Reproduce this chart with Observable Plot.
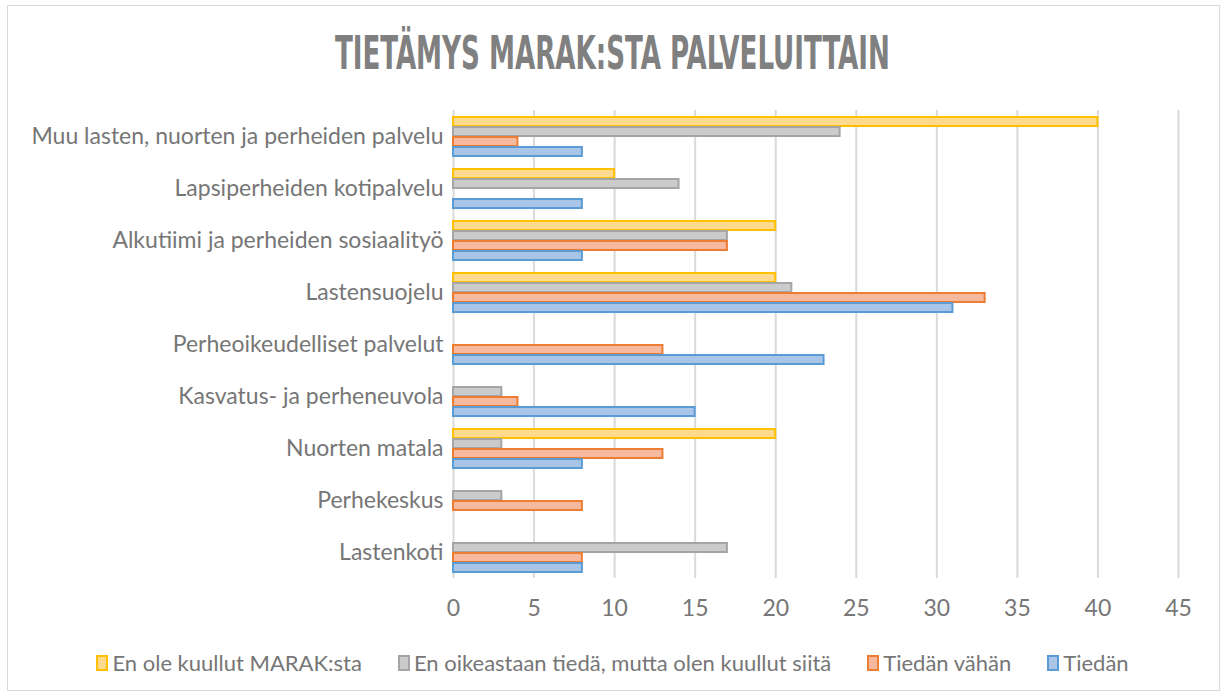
<!DOCTYPE html>
<html>
<head>
<meta charset="utf-8">
<script src="https://cdn.jsdelivr.net/npm/d3@7"></script>
<script src="https://cdn.jsdelivr.net/npm/@observablehq/plot@0.6"></script>
<style>
  html, body { margin: 0; padding: 0; background: #fff; }
  #frame { position: absolute; left: 7px; top: 5px; width: 1213px; height: 686px; border: 1px solid #d9d9d9; box-sizing: border-box; }
  #title { position: absolute; left: 0; top: 26px; width: 1225px; text-align: center; font-family: "DejaVu Sans Condensed", "DejaVu Sans"; font-weight: bold; font-size: 46px; color: #808080; white-space: nowrap; }
  #title span { display: inline-block; transform-origin: center; }
  #chart { position: absolute; left: 0; top: 100px; }
  #legend { position: absolute; left: 0; top: 649px; width: 1225px; display: flex; justify-content: center; gap: 36px; font-family: Lato, "Open Sans", sans-serif; font-size: 22px; color: #767676; }
  .item { display: flex; align-items: center; gap: 4px; }
  .sw { width: 8px; height: 12px; border: 2px solid; }
  svg text { font-family: Lato, "Open Sans", sans-serif; }
</style>
</head>
<body>
<div id="frame"></div>
<div id="title"><span>TIETÄMYS MARAK:STA PALVELUITTAIN</span></div>
<div id="chart"></div>
<div id="legend"></div>
<script>
const categories = [
  "Muu lasten, nuorten ja perheiden palvelu",
  "Lapsiperheiden kotipalvelu",
  "Alkutiimi ja perheiden sosiaalityö",
  "Lastensuojelu",
  "Perheoikeudelliset palvelut",
  "Kasvatus- ja perheneuvola",
  "Nuorten matala",
  "Perhekeskus",
  "Lastenkoti"
];
const seriesNames = [
  "En ole kuullut MARAK:sta",
  "En oikeastaan tiedä, mutta olen kuullut siitä",
  "Tiedän vähän",
  "Tiedän"
];
const enOleKuullut = [40, 10, 20, 20, 0, 0, 20, 0, 0];
const enOikeastaanTieda = [24, 14, 17, 21, 0, 3, 3, 3, 17];
const tiedanVahan = [4, 0, 17, 33, 13, 4, 13, 8, 8];
const tiedan = [8, 8, 8, 31, 23, 15, 8, 0, 8];
const xTicks = [0, 5, 10, 15, 20, 25, 30, 35, 40, 45];

const fills = ["#fed98e", "#cbcbcb", "#f5b9a0", "#a9c6e9"];
const strokes = ["#ffc000", "#a5a5a5", "#ed7d31", "#5b9bd5"];

const seriesValues = [enOleKuullut, enOikeastaanTieda, tiedanVahan, tiedan];
const rows = [];
categories.forEach((c, i) => {
  seriesNames.forEach((s, j) => {
    rows.push({category: c, series: s, value: seriesValues[j][i]});
  });
});
const drawn = rows.filter(d => d.value > 0);

const plot = Plot.plot({
  width: 1225,
  height: 530,
  marginLeft: 453,
  marginRight: 47,
  marginTop: 8,
  marginBottom: 50,
  style: {fontSize: "23px", color: "#767676", background: "transparent"},
  x: {domain: [0, 45], ticks: xTicks, tickSize: 0, tickPadding: 21, label: null},
  y: {domain: seriesNames, axis: null, paddingInner: 0, paddingOuter: 0.5},
  fy: {domain: categories, padding: 0, label: null, tickSize: 0, tickPadding: 10},
  color: {domain: seriesNames, range: fills},
  facet: {data: drawn, y: "category"},
  marks: [
    Plot.gridX(xTicks, {facet: false, stroke: "#d9d9d9", strokeOpacity: 1, strokeWidth: 2}),
    Plot.barX(drawn, {
      x: "value",
      y: "series",
      fy: "category",
      fill: "series",
      stroke: d => strokes[seriesNames.indexOf(d.series)],
      strokeWidth: 2,
      insetTop: 1,
      insetBottom: 0
    })
  ]
});
document.getElementById("chart").appendChild(plot);

const legend = document.getElementById("legend");
seriesNames.forEach((s, j) => {
  const it = document.createElement("div");
  it.className = "item";
  const sw = document.createElement("div");
  sw.className = "sw";
  sw.style.background = fills[j];
  sw.style.borderColor = strokes[j];
  const t = document.createElement("span");
  t.textContent = s;
  it.appendChild(sw);
  it.appendChild(t);
  legend.appendChild(it);
});

const ts = document.querySelector("#title span");
const w = ts.getBoundingClientRect().width;
ts.style.transform = `scaleX(${555 / w})`;
</script>
</body>
</html>
